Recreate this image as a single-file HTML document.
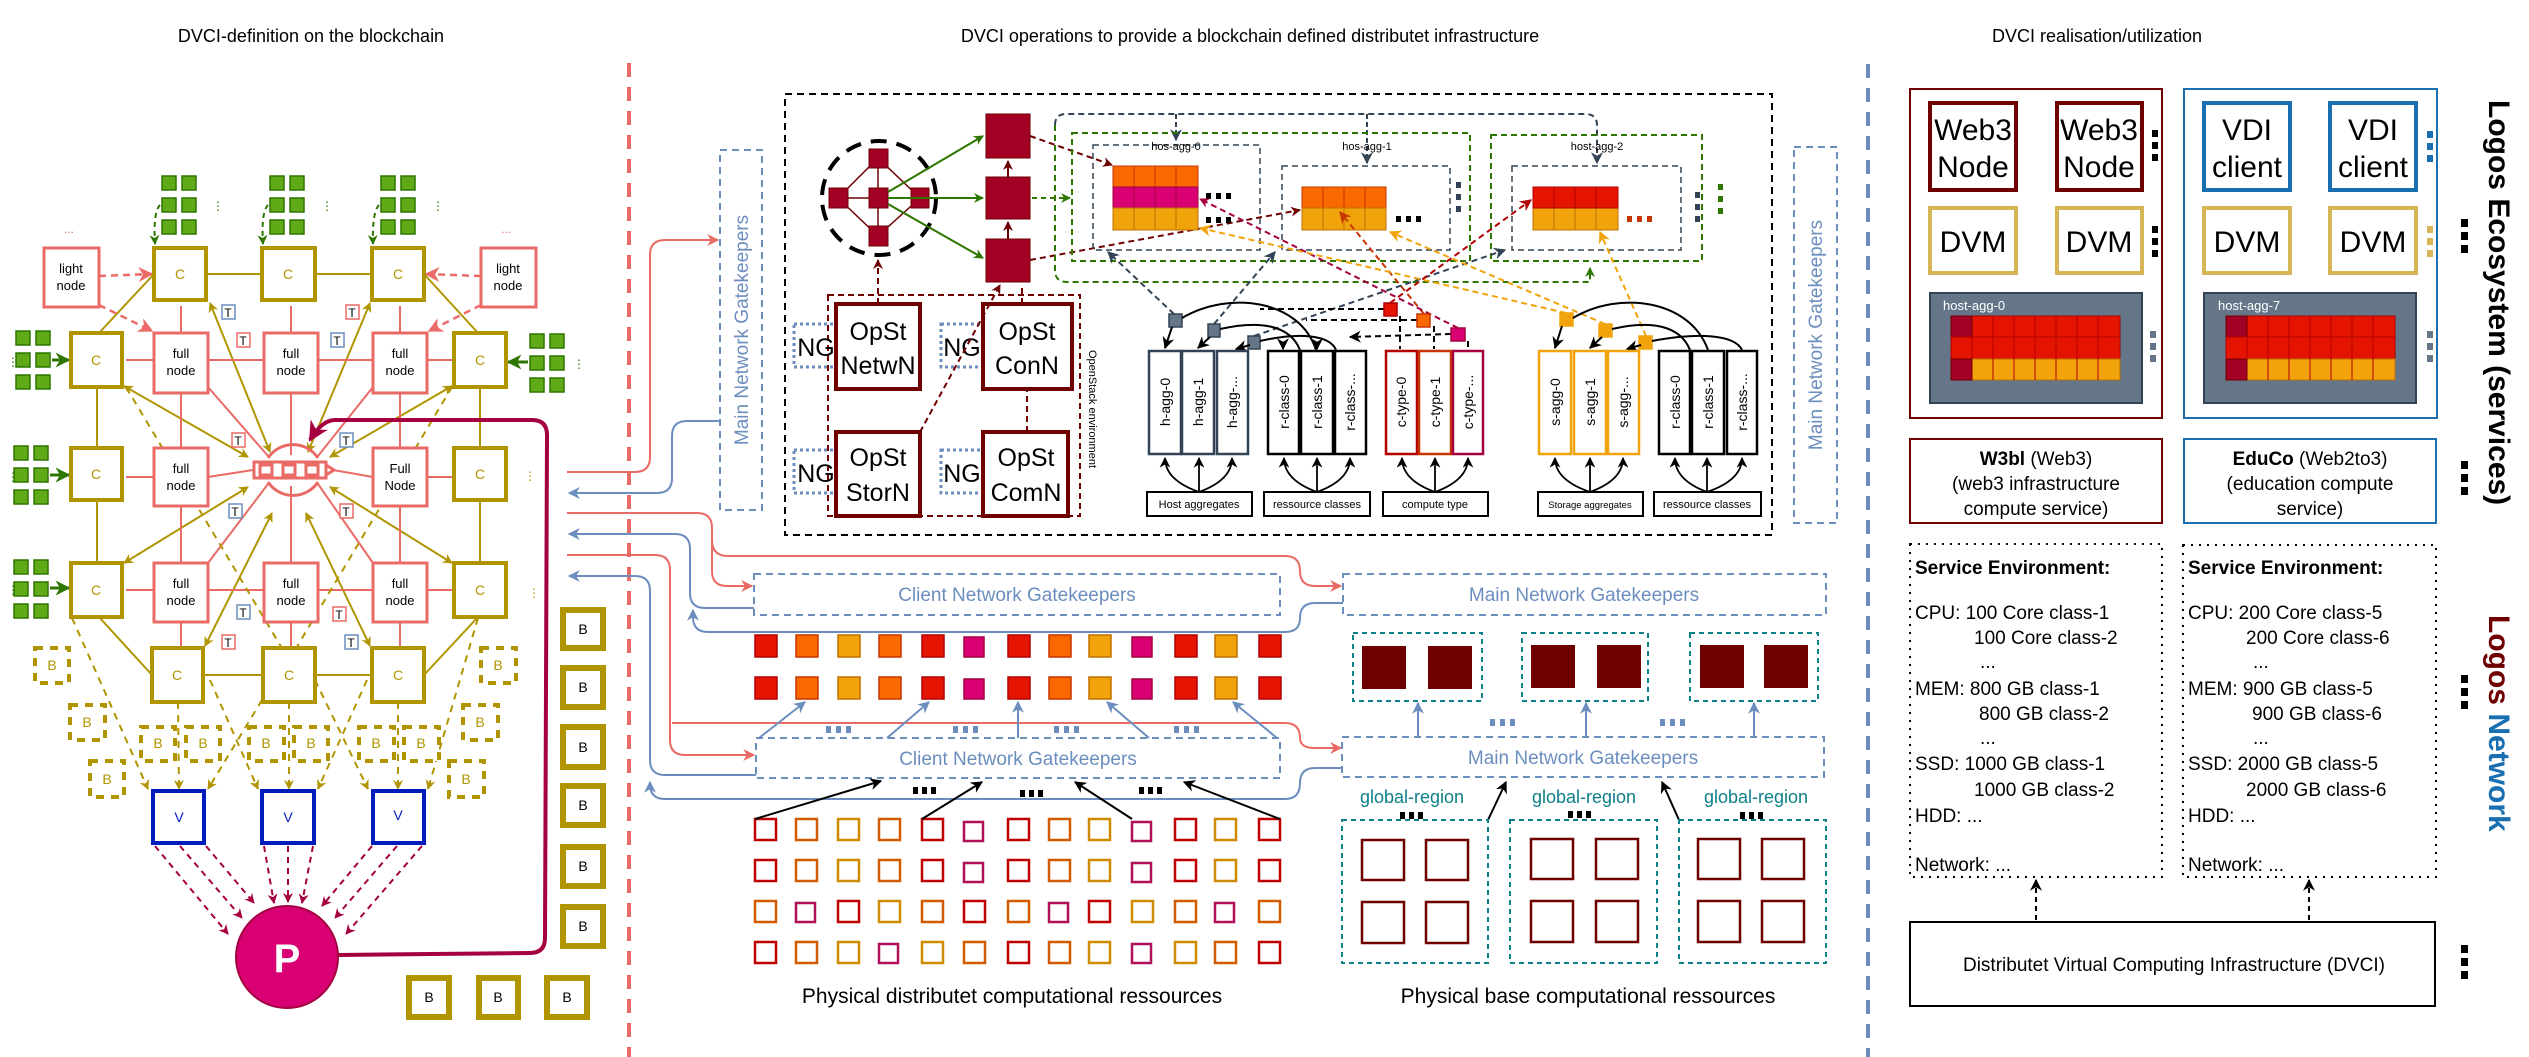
<!DOCTYPE html>
<html><head><meta charset="utf-8"><style>
html,body{margin:0;padding:0;background:#fff}
svg{display:block;font-family:"Liberation Sans",sans-serif}
</style></head><body>
<svg width="2529" height="1057" viewBox="0 0 2529 1057" xmlns="http://www.w3.org/2000/svg">
<defs>
<marker id="mG" viewBox="0 0 10 10" refX="9" refY="5" markerWidth="5" markerHeight="5" orient="auto-start-reverse"><path d="M0,0L10,5L0,10L3,5z" fill="#B09500"/></marker>
<marker id="mR" viewBox="0 0 10 10" refX="9" refY="5" markerWidth="6" markerHeight="6" orient="auto"><path d="M0,0L10,5L0,10L3,5z" fill="#EA6B66"/></marker>
<marker id="mB" viewBox="0 0 10 10" refX="9" refY="5" markerWidth="6" markerHeight="6" orient="auto"><path d="M0,0L10,5L0,10L3,5z" fill="#6C8EBF"/></marker>
<marker id="mGr" viewBox="0 0 10 10" refX="9" refY="5" markerWidth="5" markerHeight="5" orient="auto"><path d="M0,0L10,5L0,10L3,5z" fill="#2D7600"/></marker>
<marker id="mC" viewBox="0 0 10 10" refX="9" refY="5" markerWidth="5" markerHeight="5" orient="auto"><path d="M0,0L10,5L0,10L3,5z" fill="#A50040"/></marker>
<marker id="mD" viewBox="0 0 10 10" refX="9" refY="5" markerWidth="5" markerHeight="5" orient="auto"><path d="M0,0L10,5L0,10L3,5z" fill="#6F0000"/></marker>
<marker id="mK" viewBox="0 0 10 10" refX="9" refY="5" markerWidth="6" markerHeight="6" orient="auto"><path d="M0,0L10,5L0,10L3,5z" fill="#000"/></marker>
<marker id="mS" viewBox="0 0 10 10" refX="9" refY="5" markerWidth="6" markerHeight="6" orient="auto"><path d="M0,0L10,5L0,10L3,5z" fill="#314354"/></marker>
<marker id="mA" viewBox="0 0 10 10" refX="9" refY="5" markerWidth="6" markerHeight="6" orient="auto"><path d="M0,0L10,5L0,10L3,5z" fill="#F0A30A"/></marker>
<marker id="mO" viewBox="0 0 10 10" refX="9" refY="5" markerWidth="6" markerHeight="6" orient="auto"><path d="M0,0L10,5L0,10L3,5z" fill="#C73500"/></marker>
<marker id="mRd" viewBox="0 0 10 10" refX="9" refY="5" markerWidth="6" markerHeight="6" orient="auto"><path d="M0,0L10,5L0,10L3,5z" fill="#B20000"/></marker>
</defs>

<!-- titles -->
<g font-size="18" fill="#000" text-anchor="middle">
<text x="311" y="42">DVCI-definition on the blockchain</text>
<text x="1250" y="42">DVCI operations to provide a blockchain defined distributet infrastructure</text>
<text x="2097" y="42">DVCI realisation/utilization</text>
</g>

<!-- dividers -->
<line x1="629" y1="63" x2="629" y2="1057" stroke="#EA6B66" stroke-width="4" stroke-dasharray="14,10"/>
<line x1="1868" y1="64" x2="1868" y2="1057" stroke="#6C8EBF" stroke-width="4" stroke-dasharray="14,10"/>

<!-- ============ LEFT SECTION ============ -->
<!-- connections -->
<g fill="none">
<!-- gold solid -->
<g stroke="#B09500" stroke-width="2">
<line x1="206" y1="274" x2="262" y2="274"/><line x1="315" y1="274" x2="372" y2="274"/>
<line x1="99" y1="333" x2="154" y2="274"/><line x1="478" y1="333" x2="424" y2="274"/>
<line x1="97" y1="387" x2="97" y2="448"/><line x1="97" y1="500" x2="97" y2="563"/>
<line x1="480" y1="387" x2="480" y2="448"/><line x1="480" y1="500" x2="480" y2="563"/>
<line x1="99" y1="617" x2="152" y2="675"/><line x1="478" y1="617" x2="424" y2="675"/>
<line x1="203" y1="675" x2="263" y2="675"/><line x1="315" y1="675" x2="372" y2="675"/>
<line x1="210" y1="303" x2="270" y2="452" marker-start="url(#mG)" marker-end="url(#mG)"/>
<line x1="370" y1="303" x2="308" y2="452" marker-start="url(#mG)" marker-end="url(#mG)"/>
<line x1="124" y1="386" x2="248" y2="457" marker-start="url(#mG)" marker-end="url(#mG)"/>
<line x1="452" y1="386" x2="330" y2="457" marker-start="url(#mG)" marker-end="url(#mG)"/>
<line x1="124" y1="563" x2="248" y2="487" marker-start="url(#mG)" marker-end="url(#mG)"/>
<line x1="452" y1="563" x2="330" y2="487" marker-start="url(#mG)" marker-end="url(#mG)"/>
<line x1="205" y1="646" x2="272" y2="513" marker-start="url(#mG)" marker-end="url(#mG)"/>
<line x1="370" y1="646" x2="306" y2="513" marker-start="url(#mG)" marker-end="url(#mG)"/>
</g>
<!-- red solid grid -->
<g stroke="#EA6B66" stroke-width="2">
<line x1="181" y1="306" x2="181" y2="333"/><line x1="291" y1="306" x2="291" y2="333"/><line x1="400" y1="306" x2="400" y2="333"/>
<line x1="126" y1="360" x2="154" y2="360"/><line x1="208" y1="360" x2="264" y2="360"/><line x1="318" y1="360" x2="373" y2="360"/><line x1="427" y1="360" x2="454" y2="360"/>
<line x1="126" y1="477" x2="154" y2="477"/><line x1="208" y1="477" x2="253" y2="470"/><line x1="333" y1="470" x2="373" y2="477"/><line x1="427" y1="477" x2="454" y2="477"/>
<line x1="126" y1="590" x2="154" y2="590"/><line x1="208" y1="590" x2="264" y2="590"/><line x1="318" y1="590" x2="373" y2="590"/><line x1="427" y1="590" x2="454" y2="590"/>
<line x1="181" y1="393" x2="181" y2="448"/><line x1="181" y1="506" x2="181" y2="563"/>
<line x1="400" y1="393" x2="400" y2="448"/><line x1="400" y1="506" x2="400" y2="563"/>
<line x1="181" y1="622" x2="181" y2="648"/><line x1="291" y1="622" x2="291" y2="648"/><line x1="400" y1="622" x2="400" y2="648"/>
<line x1="208" y1="387" x2="268" y2="456"/><line x1="291" y1="393" x2="291" y2="455"/><line x1="373" y1="387" x2="318" y2="456"/>
<line x1="208" y1="563" x2="268" y2="484"/><line x1="291" y1="563" x2="291" y2="486"/><line x1="373" y1="563" x2="318" y2="484"/>
</g>
<!-- light node dashed red -->
<g stroke="#EA6B66" stroke-width="2.5" stroke-dasharray="7,5">
<line x1="99" y1="276" x2="152" y2="274" marker-end="url(#mR)"/>
<line x1="99" y1="305" x2="152" y2="331" marker-end="url(#mR)"/>
<line x1="481" y1="276" x2="426" y2="274" marker-end="url(#mR)"/>
<line x1="481" y1="305" x2="429" y2="331" marker-end="url(#mR)"/>
</g>
<!-- gold dashed -->
<g stroke="#B09500" stroke-width="2" stroke-dasharray="7,6">
<line x1="126" y1="387" x2="289" y2="660"/><line x1="452" y1="387" x2="289" y2="660"/>
<line x1="72" y1="618" x2="148" y2="789" marker-end="url(#mG)"/>
<line x1="178" y1="702" x2="179" y2="789" marker-end="url(#mG)"/>
<line x1="262" y1="700" x2="208" y2="789" marker-end="url(#mG)"/>
<line x1="210" y1="680" x2="258" y2="789" marker-end="url(#mG)"/>
<line x1="289" y1="702" x2="289" y2="789" marker-end="url(#mG)"/>
<line x1="367" y1="680" x2="318" y2="789" marker-end="url(#mG)"/>
<line x1="315" y1="680" x2="368" y2="789" marker-end="url(#mG)"/>
<line x1="398" y1="702" x2="398" y2="789" marker-end="url(#mG)"/>
<line x1="478" y1="618" x2="428" y2="789" marker-end="url(#mG)"/>
</g>
<!-- V to P -->
<g stroke="#A50040" stroke-width="2" stroke-dasharray="6,5">
<line x1="155" y1="846" x2="228" y2="934" marker-end="url(#mC)"/>
<line x1="180" y1="846" x2="242" y2="918" marker-end="url(#mC)"/>
<line x1="206" y1="846" x2="254" y2="903" marker-end="url(#mC)"/>
<line x1="264" y1="846" x2="274" y2="903" marker-end="url(#mC)"/>
<line x1="288" y1="846" x2="288" y2="902" marker-end="url(#mC)"/>
<line x1="313" y1="846" x2="302" y2="903" marker-end="url(#mC)"/>
<line x1="372" y1="846" x2="322" y2="906" marker-end="url(#mC)"/>
<line x1="397" y1="846" x2="335" y2="918" marker-end="url(#mC)"/>
<line x1="422" y1="846" x2="346" y2="934" marker-end="url(#mC)"/>
</g>
<!-- P loop -->
<path d="M338,955 L530,953 Q545,953 545,938 L547,435 Q547,420 532,420 L335,420 Q322,420 310,440" stroke="#A50040" stroke-width="4" marker-end="url(#mC)"/>
<!-- green arrows -->
<g stroke="#2D7600" stroke-width="2">
<path d="M160,205 Q153,212 155,244" stroke-dasharray="5,4" marker-end="url(#mGr)"/>
<path d="M268,205 Q261,212 263,244" stroke-dasharray="5,4" marker-end="url(#mGr)"/>
<path d="M379,205 Q372,212 373,244" stroke-dasharray="5,4" marker-end="url(#mGr)"/>
<line x1="52" y1="360" x2="69" y2="360" stroke-width="3" marker-end="url(#mGr)"/>
<line x1="50" y1="475" x2="69" y2="475" stroke-width="3" marker-end="url(#mGr)"/>
<line x1="50" y1="588" x2="69" y2="588" stroke-width="3" marker-end="url(#mGr)"/>
<line x1="528" y1="362" x2="508" y2="362" stroke-width="3" marker-end="url(#mGr)"/>
</g>
</g>

<!-- green square groups -->
<g fill="#60A917" stroke="#2D7600" stroke-width="1.5">
<rect x="162" y="176" width="14" height="14"/><rect x="182" y="176" width="14" height="14"/><rect x="162" y="198" width="14" height="14"/><rect x="182" y="198" width="14" height="14"/><rect x="162" y="220" width="14" height="14"/><rect x="182" y="220" width="14" height="14"/>
<rect x="270" y="176" width="14" height="14"/><rect x="290" y="176" width="14" height="14"/><rect x="270" y="198" width="14" height="14"/><rect x="290" y="198" width="14" height="14"/><rect x="270" y="220" width="14" height="14"/><rect x="290" y="220" width="14" height="14"/>
<rect x="381" y="176" width="14" height="14"/><rect x="401" y="176" width="14" height="14"/><rect x="381" y="198" width="14" height="14"/><rect x="401" y="198" width="14" height="14"/><rect x="381" y="220" width="14" height="14"/><rect x="401" y="220" width="14" height="14"/>
<rect x="16" y="331" width="14" height="14"/><rect x="36" y="331" width="14" height="14"/><rect x="16" y="353" width="14" height="14"/><rect x="36" y="353" width="14" height="14"/><rect x="16" y="375" width="14" height="14"/><rect x="36" y="375" width="14" height="14"/>
<rect x="14" y="446" width="14" height="14"/><rect x="34" y="446" width="14" height="14"/><rect x="14" y="468" width="14" height="14"/><rect x="34" y="468" width="14" height="14"/><rect x="14" y="490" width="14" height="14"/><rect x="34" y="490" width="14" height="14"/>
<rect x="14" y="560" width="14" height="14"/><rect x="34" y="560" width="14" height="14"/><rect x="14" y="582" width="14" height="14"/><rect x="34" y="582" width="14" height="14"/><rect x="14" y="604" width="14" height="14"/><rect x="34" y="604" width="14" height="14"/>
<rect x="530" y="334" width="14" height="14"/><rect x="550" y="334" width="14" height="14"/><rect x="530" y="356" width="14" height="14"/><rect x="550" y="356" width="14" height="14"/><rect x="530" y="378" width="14" height="14"/><rect x="550" y="378" width="14" height="14"/>
</g>
<g fill="#2D7600" font-size="12">
<text x="212" y="210">⋮</text><text x="321" y="210">⋮</text><text x="432" y="210">⋮</text><text x="573" y="368">⋮</text>
<text x="7" y="366">⋮</text><text x="7" y="481">⋮</text><text x="7" y="594">⋮</text>
</g>
<g fill="#EA6B66" font-size="12"><text x="64" y="233">...</text><text x="501" y="233">...</text></g>
<g fill="#B09500" font-size="12"><text x="524" y="480">⋮</text><text x="528" y="597">⋮</text></g>

<!-- boxes left -->
<g fill="#fff">
<g stroke="#EA6B66" stroke-width="3">
<rect x="44" y="248" width="55" height="59"/><rect x="481" y="248" width="55" height="59"/>
<rect x="154" y="333" width="54" height="60"/><rect x="264" y="333" width="54" height="60"/><rect x="373" y="333" width="54" height="60"/>
<rect x="154" y="448" width="54" height="58"/><rect x="373" y="448" width="54" height="58"/>
<rect x="154" y="563" width="54" height="59"/><rect x="264" y="563" width="54" height="59"/><rect x="373" y="563" width="54" height="59"/>
</g>
<g stroke="#B09500" stroke-width="4">
<rect x="154" y="248" width="52" height="52"/><rect x="262" y="248" width="53" height="52"/><rect x="372" y="248" width="52" height="52"/>
<rect x="71" y="333" width="51" height="54"/><rect x="454" y="333" width="52" height="54"/>
<rect x="71" y="448" width="51" height="52"/><rect x="454" y="448" width="52" height="52"/>
<rect x="71" y="563" width="51" height="54"/><rect x="454" y="563" width="52" height="54"/>
<rect x="152" y="648" width="51" height="54"/><rect x="263" y="648" width="52" height="54"/><rect x="372" y="648" width="52" height="54"/>
</g>
<g stroke="#B09500" stroke-width="4" stroke-dasharray="8,7">
<rect x="35" y="648" width="34" height="35"/><rect x="70" y="705" width="35" height="35"/><rect x="141" y="727" width="34" height="34"/><rect x="186" y="727" width="34" height="34"/><rect x="249" y="727" width="35" height="34"/><rect x="294" y="727" width="34" height="34"/><rect x="359" y="727" width="35" height="34"/><rect x="404" y="727" width="35" height="34"/><rect x="90" y="761" width="34" height="36"/>
<rect x="481" y="648" width="35" height="35"/><rect x="463" y="705" width="35" height="35"/><rect x="449" y="761" width="35" height="36"/>
</g>
<g stroke="#B09500" stroke-width="6">
<rect x="563" y="610" width="40" height="38"/><rect x="563" y="668" width="40" height="39"/><rect x="563" y="727" width="40" height="40"/><rect x="563" y="786" width="40" height="39"/><rect x="563" y="847" width="40" height="39"/><rect x="563" y="907" width="40" height="39"/>
<rect x="409" y="978" width="40" height="39"/><rect x="479" y="978" width="39" height="39"/><rect x="547" y="978" width="40" height="39"/>
</g>
<g stroke="#001DBC" stroke-width="4">
<rect x="153" y="791" width="51" height="52"/><rect x="262" y="791" width="52" height="52"/><rect x="373" y="791" width="51" height="52"/>
</g>
</g>
<!-- chain icon -->
<g fill="none" stroke="#EA6B66" stroke-width="3">
<path d="M268,458 A30,30 0 0 1 318,458"/><path d="M268,482 A30,30 0 0 0 318,482"/>
<rect x="254" y="462" width="72" height="16" fill="#fff"/>
<rect x="260" y="465" width="12" height="10"/><rect x="283" y="465" width="12" height="10"/><rect x="306" y="465" width="12" height="10"/>
<path d="M326,465 L334,470 L326,475"/>
</g>
<!-- P -->
<ellipse cx="287" cy="957" rx="51" ry="51" fill="#D80073" stroke="#A50040" stroke-width="2"/>
<text x="287" y="972" font-size="40" font-weight="bold" fill="#fff" text-anchor="middle">P</text>

<g font-size="14" text-anchor="middle">
<g fill="#B09500">
<text x="180" y="279">C</text><text x="288" y="279">C</text><text x="398" y="279">C</text>
<text x="96" y="365">C</text><text x="480" y="365">C</text>
<text x="96" y="479">C</text><text x="480" y="479">C</text>
<text x="96" y="595">C</text><text x="480" y="595">C</text>
<text x="177" y="680">C</text><text x="289" y="680">C</text><text x="398" y="680">C</text>
<text x="52" y="670">B</text><text x="87" y="727">B</text><text x="158" y="748">B</text><text x="203" y="748">B</text><text x="266" y="748">B</text><text x="311" y="748">B</text><text x="376" y="748">B</text><text x="421" y="748">B</text><text x="107" y="784">B</text>
<text x="498" y="670">B</text><text x="480" y="727">B</text><text x="466" y="784">B</text>
</g>
<g fill="#000" font-size="13">
<text x="71" y="273">light</text><text x="71" y="290">node</text>
<text x="508" y="273">light</text><text x="508" y="290">node</text>
<text x="181" y="358">full</text><text x="181" y="375">node</text>
<text x="291" y="358">full</text><text x="291" y="375">node</text>
<text x="400" y="358">full</text><text x="400" y="375">node</text>
<text x="181" y="473">full</text><text x="181" y="490">node</text>
<text x="400" y="473">Full</text><text x="400" y="490">Node</text>
<text x="181" y="588">full</text><text x="181" y="605">node</text>
<text x="291" y="588">full</text><text x="291" y="605">node</text>
<text x="400" y="588">full</text><text x="400" y="605">node</text>
</g>
<g fill="#001DBC"><text x="179" y="822">V</text><text x="288" y="822">V</text><text x="398" y="820">V</text></g>
<g fill="#000">
<text x="583" y="634">B</text><text x="583" y="692">B</text><text x="583" y="752">B</text><text x="583" y="810">B</text><text x="583" y="871">B</text><text x="583" y="931">B</text>
<text x="429" y="1002">B</text><text x="498" y="1002">B</text><text x="567" y="1002">B</text>
</g>
</g>
<!-- T badges -->
<g font-size="12" text-anchor="middle">
<g fill="#fff" stroke-width="1.5">
<rect x="222" y="305" width="13" height="14" stroke="#6C8EBF"/><rect x="346" y="305" width="13" height="14" stroke="#EA6B66"/>
<rect x="237" y="333" width="13" height="14" stroke="#EA6B66"/><rect x="331" y="333" width="13" height="14" stroke="#6C8EBF"/>
<rect x="232" y="433" width="13" height="14" stroke="#EA6B66"/><rect x="340" y="433" width="13" height="14" stroke="#6C8EBF"/>
<rect x="229" y="504" width="13" height="14" stroke="#6C8EBF"/><rect x="340" y="504" width="13" height="14" stroke="#EA6B66"/>
<rect x="237" y="605" width="13" height="14" stroke="#6C8EBF"/><rect x="333" y="607" width="13" height="14" stroke="#EA6B66"/>
<rect x="222" y="635" width="13" height="14" stroke="#EA6B66"/><rect x="345" y="635" width="13" height="14" stroke="#6C8EBF"/>
</g>
<g fill="#000">
<text x="228" y="317">T</text><text x="352" y="317">T</text><text x="243" y="345">T</text><text x="337" y="345">T</text>
<text x="238" y="445">T</text><text x="346" y="445">T</text><text x="235" y="516">T</text><text x="346" y="516">T</text>
<text x="243" y="617">T</text><text x="339" y="619">T</text><text x="228" y="647">T</text><text x="351" y="647">T</text>
</g>
</g>

<!-- ============ NETWORK LINES ============ -->
<g fill="none" stroke-width="2">
<path d="M567,472 L635,472 Q650,472 650,457 L650,255 Q650,240 665,240 L718,240" stroke="#EA6B66" marker-end="url(#mR)"/>
<path d="M720,421 L687,421 Q672,421 672,436 L672,478 Q672,493 657,493 L569,493" stroke="#6C8EBF" marker-end="url(#mB)"/>
<path d="M567,513 L697,513 Q712,513 712,528 L712,571 Q712,586 727,586 L752,586" stroke="#EA6B66" marker-end="url(#mR)"/>
<path d="M712,540 Q712,556 728,556 L1285,556 Q1300,556 1300,571 L1300,571 Q1300,586 1315,586 L1341,586" stroke="#EA6B66" marker-end="url(#mR)"/>
<path d="M754,608 L705,608 Q690,608 690,593 L690,549 Q690,534 675,534 L569,534" stroke="#6C8EBF" marker-end="url(#mB)"/>
<path d="M1343,603 L1315,603 Q1300,603 1300,618 Q1300,632 1285,632 L708,632 Q693,632 693,617 L693,610" stroke="#6C8EBF" marker-end="url(#mB)"/>
<path d="M567,555 L655,555 Q670,555 670,570 L670,740 Q670,755 685,755 L754,755" stroke="#EA6B66" marker-end="url(#mR)"/>
<path d="M672,723 L1285,723 Q1300,723 1300,738 Q1300,748 1315,748 L1341,748" stroke="#EA6B66" marker-end="url(#mR)"/>
<path d="M756,775 L665,775 Q650,775 650,760 L650,591 Q650,576 635,576 L569,576" stroke="#6C8EBF" marker-end="url(#mB)"/>
<path d="M1343,768 L1315,768 Q1300,768 1300,783 Q1300,799 1285,799 L665,799 Q650,799 650,784 L650,782" stroke="#6C8EBF" marker-end="url(#mB)"/>
</g>

<!-- ============ MIDDLE ============ -->
<!-- vertical Main NG boxes -->
<g fill="none" stroke="#6C8EBF" stroke-width="2" stroke-dasharray="7,5">
<rect x="720" y="150" width="42" height="360"/>
<rect x="1794" y="147" width="43" height="376"/>
<rect x="754" y="574" width="526" height="41"/>
<rect x="1343" y="574" width="483" height="41"/>
<rect x="756" y="738" width="524" height="40"/>
<rect x="1342" y="737" width="482" height="40"/>
</g>
<g fill="#6C8EBF" font-size="19" text-anchor="middle">
<text transform="translate(748,330) rotate(-90)">Main Network Gatekeepers</text>
<text transform="translate(1822,335) rotate(-90)">Main Network Gatekeepers</text>
<text x="1017" y="601">Client Network Gatekeepers</text>
<text x="1584" y="601">Main Network Gatekeepers</text>
<text x="1018" y="765">Client Network Gatekeepers</text>
<text x="1583" y="764">Main Network Gatekeepers</text>
</g>

<!-- black dashed big box -->
<rect x="785" y="94" width="987" height="441" fill="none" stroke="#000" stroke-width="2" stroke-dasharray="7,5"/>

<!-- openstack area -->
<rect x="828" y="295" width="252" height="221" fill="none" stroke="#6F0000" stroke-width="2" stroke-dasharray="6,4"/>
<text transform="translate(1089,350) rotate(90)" font-size="11" fill="#000">OpenStack environment</text>
<g fill="none" stroke="#6C8EBF" stroke-width="3" stroke-dasharray="3,3">
<rect x="794" y="324" width="43" height="43"/><rect x="941" y="324" width="42" height="43"/>
<rect x="794" y="450" width="43" height="43"/><rect x="941" y="450" width="42" height="43"/>
</g>
<g fill="#fff" stroke="#6F0000" stroke-width="4">
<rect x="836" y="304" width="84" height="85"/><rect x="983" y="304" width="89" height="85"/>
<rect x="836" y="432" width="84" height="84"/><rect x="983" y="432" width="85" height="84"/>
</g>
<g font-size="25" fill="#000" text-anchor="middle">
<text x="878" y="340">OpSt</text><text x="878" y="374">NetwN</text>
<text x="1027" y="340">OpSt</text><text x="1027" y="374">ConN</text>
<text x="878" y="466">OpSt</text><text x="878" y="501">StorN</text>
<text x="1026" y="466">OpSt</text><text x="1026" y="501">ComN</text>
<text x="816" y="356">NG</text><text x="962" y="356">NG</text>
<text x="816" y="482">NG</text><text x="962" y="482">NG</text>
</g>

<!-- network circle -->
<circle cx="879" cy="198" r="57" fill="none" stroke="#000" stroke-width="4" stroke-dasharray="16,10"/>
<g stroke="#6F0000" stroke-width="1.5" fill="none">
<path d="M878,158 L838,198 L878,236 L920,198 Z"/><line x1="838" y1="198" x2="920" y2="198"/><line x1="878" y1="158" x2="878" y2="236"/>
</g>
<g fill="#A20025" stroke="#6F0000" stroke-width="1">
<rect x="869" y="149" width="19" height="19"/><rect x="829" y="188" width="19" height="20"/><rect x="869" y="188" width="19" height="20"/><rect x="911" y="188" width="18" height="20"/><rect x="869" y="226" width="19" height="20"/>
<rect x="986" y="114" width="44" height="44"/><rect x="986" y="177" width="44" height="42"/><rect x="986" y="239" width="44" height="43"/>
</g>
<g stroke="#2D7600" stroke-width="2" fill="none">
<line x1="888" y1="192" x2="983" y2="136" marker-end="url(#mGr)"/>
<line x1="888" y1="198" x2="983" y2="198" marker-end="url(#mGr)"/>
<line x1="888" y1="204" x2="983" y2="258" marker-end="url(#mGr)"/>
<line x1="1032" y1="198" x2="1070" y2="198" stroke-dasharray="5,4" marker-end="url(#mGr)"/>
</g>
<g stroke="#6F0000" stroke-width="2" fill="none" stroke-dasharray="6,4">
<line x1="1008" y1="239" x2="1008" y2="222" stroke-dasharray="none" marker-end="url(#mD)"/>
<line x1="1008" y1="177" x2="1008" y2="161" stroke-dasharray="none" marker-end="url(#mD)"/>
<line x1="878" y1="304" x2="878" y2="260" marker-end="url(#mD)"/>
<line x1="1022" y1="304" x2="1022" y2="285"/>
<line x1="920" y1="432" x2="1000" y2="285" marker-end="url(#mD)"/>
<line x1="1027" y1="432" x2="1027" y2="389"/>
<line x1="1030" y1="136" x2="1112" y2="165" marker-end="url(#mD)"/>
<line x1="1030" y1="260" x2="1300" y2="210" marker-end="url(#mD)"/>
</g>

<!-- green / gray dashed aggregate boxes -->
<path d="M1055,125 Q1055,114 1066,114 L1585,114 Q1597,114 1597,125 L1597,140" fill="none" stroke="#314354" stroke-width="2" stroke-dasharray="6,4"/>
<path d="M1055,125 L1055,270 Q1055,282 1067,282 L1590,282 L1590,268" fill="none" stroke="#2D7600" stroke-width="2" stroke-dasharray="6,4" marker-end="url(#mGr)"/>
<line x1="1176" y1="114" x2="1176" y2="140" stroke="#314354" stroke-width="2" stroke-dasharray="5,3" marker-end="url(#mS)"/>
<line x1="1367" y1="114" x2="1367" y2="163" stroke="#314354" stroke-width="2" stroke-dasharray="5,3" marker-end="url(#mS)"/>
<line x1="1597" y1="140" x2="1597" y2="163" stroke="#314354" stroke-width="2" stroke-dasharray="5,3" marker-end="url(#mS)"/>
<g fill="none" stroke="#2D7600" stroke-width="2" stroke-dasharray="6,4">
<rect x="1072" y="133" width="398" height="128"/><rect x="1491" y="135" width="211" height="126"/>
</g>
<g fill="none" stroke="#314354" stroke-width="1.5" stroke-dasharray="6,4">
<rect x="1093" y="145" width="167" height="105"/><rect x="1282" y="166" width="168" height="84"/><rect x="1512" y="166" width="169" height="84"/>
</g>
<g font-size="11" fill="#000" text-anchor="middle"><text x="1176" y="150">hos-agg-0</text><text x="1367" y="150">hos-agg-1</text><text x="1597" y="150">host-agg-2</text></g>
<!-- grids -->
<g stroke-width="1">
<g fill="#FA6800" stroke="#C73500"><rect x="1113" y="166" width="21" height="21"/><rect x="1134" y="166" width="21" height="21"/><rect x="1155" y="166" width="21" height="21"/><rect x="1176" y="166" width="22" height="21"/>
<rect x="1302" y="187" width="21" height="21"/><rect x="1323" y="187" width="21" height="21"/><rect x="1344" y="187" width="21" height="21"/><rect x="1365" y="187" width="21" height="21"/></g>
<g fill="#D80073" stroke="#A50040"><rect x="1113" y="187" width="21" height="21"/><rect x="1134" y="187" width="21" height="21"/><rect x="1155" y="187" width="21" height="21"/><rect x="1176" y="187" width="22" height="21"/></g>
<g fill="#F0A30A" stroke="#BD7000"><rect x="1113" y="208" width="21" height="22"/><rect x="1134" y="208" width="21" height="22"/><rect x="1155" y="208" width="21" height="22"/><rect x="1176" y="208" width="22" height="22"/>
<rect x="1302" y="208" width="21" height="22"/><rect x="1323" y="208" width="21" height="22"/><rect x="1344" y="208" width="21" height="22"/><rect x="1365" y="208" width="21" height="22"/>
<rect x="1533" y="208" width="21" height="22"/><rect x="1554" y="208" width="21" height="22"/><rect x="1575" y="208" width="21" height="22"/><rect x="1596" y="208" width="22" height="22"/></g>
<g fill="#E51400" stroke="#B20000"><rect x="1533" y="187" width="21" height="21"/><rect x="1554" y="187" width="21" height="21"/><rect x="1575" y="187" width="21" height="21"/><rect x="1596" y="187" width="22" height="21"/></g>
</g>
<g>
<rect x="1206" y="193" width="5" height="6"/><rect x="1216" y="193" width="5" height="6"/><rect x="1226" y="193" width="5" height="6"/>
<rect x="1206" y="217" width="5" height="6"/><rect x="1216" y="217" width="5" height="6"/><rect x="1226" y="217" width="5" height="6"/>
<rect x="1396" y="216" width="5" height="6"/><rect x="1406" y="216" width="5" height="6"/><rect x="1416" y="216" width="5" height="6"/>
<g fill="#C73500"><rect x="1627" y="216" width="5" height="6"/><rect x="1637" y="216" width="5" height="6"/><rect x="1647" y="216" width="5" height="6"/></g>
<g fill="#314354"><rect x="1456" y="182" width="5" height="6"/><rect x="1456" y="194" width="5" height="6"/><rect x="1456" y="206" width="5" height="6"/>
<rect x="1695" y="192" width="5" height="6"/><rect x="1695" y="204" width="5" height="6"/><rect x="1695" y="216" width="5" height="6"/></g>
<g fill="#2D7600"><rect x="1718" y="184" width="5" height="6"/><rect x="1718" y="196" width="5" height="6"/><rect x="1718" y="208" width="5" height="6"/></g>
</g>

<!-- colored dashed links from small squares -->
<g fill="none" stroke-width="2" stroke-dasharray="6,4">
<line x1="1174" y1="314" x2="1108" y2="252" stroke="#314354" marker-end="url(#mS)"/>
<line x1="1214" y1="324" x2="1275" y2="252" stroke="#314354" marker-end="url(#mS)"/>
<line x1="1254" y1="336" x2="1505" y2="250" stroke="#314354" marker-end="url(#mS)"/>
<line x1="1390" y1="303" x2="1531" y2="200" stroke="#B20000" marker-end="url(#mRd)"/>
<line x1="1424" y1="314" x2="1340" y2="212" stroke="#C73500" marker-end="url(#mO)"/>
<line x1="1458" y1="328" x2="1200" y2="199" stroke="#A50040" marker-end="url(#mC)"/>
<line x1="1566" y1="313" x2="1200" y2="228" stroke="#F0A30A" marker-end="url(#mA)"/>
<line x1="1605" y1="324" x2="1390" y2="232" stroke="#F0A30A" marker-end="url(#mA)"/>
<line x1="1646" y1="336" x2="1600" y2="232" stroke="#F0A30A" marker-end="url(#mA)"/>
<line x1="1384" y1="309" x2="1260" y2="309" stroke="#000"/>
<line x1="1417" y1="320" x2="1306" y2="320" stroke="#000"/>
<line x1="1451" y1="334" x2="1350" y2="337" stroke="#000" marker-end="url(#mK)"/>
<line x1="1400" y1="316" x2="1400" y2="349" stroke="#000"/>
<line x1="1434" y1="326" x2="1434" y2="349" stroke="#000"/>
<line x1="1468" y1="341" x2="1468" y2="349" stroke="#000"/>
</g>
<!-- small squares -->
<g stroke-width="1.5">
<g fill="#647687" stroke="#314354"><rect x="1169" y="314" width="13" height="13"/><rect x="1208" y="324" width="12" height="13"/><rect x="1248" y="336" width="12" height="13"/></g>
<rect x="1384" y="303" width="13" height="13" fill="#E51400" stroke="#B20000"/>
<rect x="1417" y="314" width="13" height="13" fill="#FA6800" stroke="#C73500"/>
<rect x="1451" y="328" width="14" height="13" fill="#D80073" stroke="#A50040"/>
<g fill="#F0A30A" stroke="#F0A30A"><rect x="1560" y="313" width="13" height="13"/><rect x="1599" y="324" width="13" height="13"/><rect x="1639" y="336" width="13" height="13"/></g>
</g>
<!-- black curves -->
<g fill="none" stroke="#000" stroke-width="2">
<path d="M1182,318 C1230,290 1300,300 1316,350"/><path d="M1220,329 C1260,320 1290,325 1300,350"/><path d="M1260,341 C1300,332 1330,335 1336,350"/>
<path d="M1172,327 L1165,348" marker-end="url(#mK)"/><path d="M1210,337 L1198,348" marker-end="url(#mK)"/><path d="M1250,345 L1236,349" marker-end="url(#mK)"/>
<path d="M1573,318 C1620,290 1690,300 1708,350"/><path d="M1612,329 C1650,320 1680,325 1690,350"/><path d="M1652,341 C1700,332 1735,335 1742,350"/>
<path d="M1562,326 L1555,348" marker-end="url(#mK)"/><path d="M1602,337 L1590,348" marker-end="url(#mK)"/><path d="M1641,345 L1627,349" marker-end="url(#mK)"/>
<path d="M1283,345 L1283,349" marker-end="url(#mK)"/><path d="M1317,345 L1317,349" marker-end="url(#mK)"/>
</g>
<!-- vertical label boxes -->
<g fill="#fff" stroke-width="2.5">
<g stroke="#314354"><rect x="1149" y="351" width="32" height="103"/><rect x="1182" y="351" width="32" height="103"/><rect x="1217" y="351" width="31" height="103"/></g>
<g stroke="#000"><rect x="1268" y="351" width="31" height="103"/><rect x="1301" y="351" width="32" height="103"/><rect x="1335" y="351" width="31" height="103"/>
<rect x="1659" y="351" width="31" height="103"/><rect x="1692" y="351" width="32" height="103"/><rect x="1727" y="351" width="30" height="103"/></g>
<rect x="1386" y="351" width="31" height="103" stroke="#B20000"/><rect x="1419" y="351" width="32" height="103" stroke="#C73500"/><rect x="1453" y="351" width="30" height="103" stroke="#A50040"/>
<g stroke="#F0A30A"><rect x="1539" y="351" width="32" height="103"/><rect x="1574" y="351" width="32" height="103"/><rect x="1608" y="351" width="31" height="103"/></g>
<g stroke="#000" stroke-width="2"><rect x="1147" y="492" width="105" height="24"/><rect x="1264" y="492" width="106" height="24"/><rect x="1383" y="492" width="105" height="24"/><rect x="1538" y="492" width="105" height="24"/><rect x="1654" y="492" width="107" height="24"/></g>
</g>
<g font-size="14" fill="#000" text-anchor="middle">
<text transform="translate(1170,402) rotate(-90)">h-agg-0</text><text transform="translate(1203,402) rotate(-90)">h-agg-1</text><text transform="translate(1237,402) rotate(-90)">h-agg-...</text>
<text transform="translate(1289,402) rotate(-90)">r-class-0</text><text transform="translate(1322,402) rotate(-90)">r-class-1</text><text transform="translate(1355,402) rotate(-90)">r-class-...</text>
<text transform="translate(1406,402) rotate(-90)">c-type-0</text><text transform="translate(1440,402) rotate(-90)">c-type-1</text><text transform="translate(1473,402) rotate(-90)">c-type-...</text>
<text transform="translate(1560,402) rotate(-90)">s-agg-0</text><text transform="translate(1595,402) rotate(-90)">s-agg-1</text><text transform="translate(1628,402) rotate(-90)">s-agg-...</text>
<text transform="translate(1680,402) rotate(-90)">r-class-0</text><text transform="translate(1713,402) rotate(-90)">r-class-1</text><text transform="translate(1747,402) rotate(-90)">r-class-...</text>
</g>
<g font-size="11" fill="#000" text-anchor="middle">
<text x="1199" y="508">Host aggregates</text><text x="1317" y="508">ressource classes</text><text x="1435" y="508">compute type</text><text x="1590" y="508" font-size="9.5">Storage aggregates</text><text x="1707" y="508">ressource classes</text>
</g>
<!-- fan arrows -->
<g fill="none" stroke="#000" stroke-width="1.8">
<path d="M1199,492 Q1165,480 1165,458" marker-end="url(#mK)"/><path d="M1199,492 L1199,458" marker-end="url(#mK)"/><path d="M1199,492 Q1232,480 1232,458" marker-end="url(#mK)"/>
<path d="M1317,492 Q1284,480 1284,458" marker-end="url(#mK)"/><path d="M1317,492 L1317,458" marker-end="url(#mK)"/><path d="M1317,492 Q1350,480 1350,458" marker-end="url(#mK)"/>
<path d="M1435,492 Q1402,480 1402,458" marker-end="url(#mK)"/><path d="M1435,492 L1435,458" marker-end="url(#mK)"/><path d="M1435,492 Q1468,480 1468,458" marker-end="url(#mK)"/>
<path d="M1590,492 Q1555,480 1555,458" marker-end="url(#mK)"/><path d="M1590,492 L1590,458" marker-end="url(#mK)"/><path d="M1590,492 Q1623,480 1623,458" marker-end="url(#mK)"/>
<path d="M1707,492 Q1675,480 1675,458" marker-end="url(#mK)"/><path d="M1707,492 L1707,458" marker-end="url(#mK)"/><path d="M1707,492 Q1742,480 1742,458" marker-end="url(#mK)"/>
</g>

<!-- colored squares rows -->
<g stroke-width="1.5">
<g fill="#E51400" stroke="#B20000">
<rect x="755" y="635" width="22" height="22"/><rect x="922" y="635" width="22" height="22"/><rect x="1008" y="635" width="22" height="22"/><rect x="1175" y="635" width="22" height="22"/><rect x="1259" y="635" width="22" height="22"/>
<rect x="755" y="677" width="22" height="22"/><rect x="922" y="677" width="22" height="22"/><rect x="1008" y="677" width="22" height="22"/><rect x="1175" y="677" width="22" height="22"/><rect x="1259" y="677" width="22" height="22"/>
</g>
<g fill="#FA6800" stroke="#C73500">
<rect x="796" y="635" width="22" height="22"/><rect x="879" y="635" width="22" height="22"/><rect x="1049" y="635" width="22" height="22"/>
<rect x="796" y="677" width="22" height="22"/><rect x="879" y="677" width="22" height="22"/><rect x="1049" y="677" width="22" height="22"/>
</g>
<g fill="#F0A30A" stroke="#BD7000">
<rect x="838" y="635" width="22" height="22"/><rect x="1089" y="635" width="22" height="22"/><rect x="1215" y="635" width="22" height="22"/>
<rect x="838" y="677" width="22" height="22"/><rect x="1089" y="677" width="22" height="22"/><rect x="1215" y="677" width="22" height="22"/>
</g>
<g fill="#D80073" stroke="#A50040">
<rect x="964" y="637" width="20" height="20"/><rect x="1132" y="637" width="20" height="20"/>
<rect x="964" y="679" width="20" height="20"/><rect x="1132" y="679" width="20" height="20"/>
</g>
</g>
<g stroke="#6C8EBF" stroke-width="2" fill="none">
<line x1="759" y1="738" x2="805" y2="702" marker-end="url(#mB)"/><line x1="887" y1="738" x2="929" y2="702" marker-end="url(#mB)"/><line x1="1018" y1="738" x2="1018" y2="702" marker-end="url(#mB)"/><line x1="1149" y1="738" x2="1107" y2="702" marker-end="url(#mB)"/><line x1="1277" y1="738" x2="1233" y2="702" marker-end="url(#mB)"/>
<line x1="1418" y1="737" x2="1418" y2="703" marker-end="url(#mB)"/><line x1="1586" y1="737" x2="1586" y2="703" marker-end="url(#mB)"/><line x1="1754" y1="737" x2="1754" y2="703" marker-end="url(#mB)"/>
</g>
<g fill="#6C8EBF">
<rect x="826" y="726" width="5" height="7"/><rect x="836" y="726" width="5" height="7"/><rect x="846" y="726" width="5" height="7"/>
<rect x="953" y="726" width="5" height="7"/><rect x="963" y="726" width="5" height="7"/><rect x="973" y="726" width="5" height="7"/>
<rect x="1054" y="726" width="5" height="7"/><rect x="1064" y="726" width="5" height="7"/><rect x="1074" y="726" width="5" height="7"/>
<rect x="1174" y="726" width="5" height="7"/><rect x="1184" y="726" width="5" height="7"/><rect x="1194" y="726" width="5" height="7"/>
<rect x="1490" y="719" width="5" height="7"/><rect x="1500" y="719" width="5" height="7"/><rect x="1510" y="719" width="5" height="7"/>
<rect x="1660" y="719" width="5" height="7"/><rect x="1670" y="719" width="5" height="7"/><rect x="1680" y="719" width="5" height="7"/>
</g>
<!-- outline rows -->
<g fill="none" stroke-width="2.5">
<g stroke="#C00000">
<rect x="755" y="819" width="21" height="21"/><rect x="922" y="819" width="21" height="21"/><rect x="1008" y="819" width="21" height="21"/><rect x="1175" y="819" width="21" height="21"/><rect x="1259" y="819" width="21" height="21"/>
<rect x="755" y="860" width="21" height="21"/><rect x="922" y="860" width="21" height="21"/><rect x="1008" y="860" width="21" height="21"/><rect x="1175" y="860" width="21" height="21"/><rect x="1259" y="860" width="21" height="21"/>
<rect x="838" y="901" width="21" height="21"/><rect x="964" y="901" width="21" height="21"/><rect x="1089" y="901" width="21" height="21"/>
<rect x="755" y="942" width="21" height="21"/><rect x="1008" y="942" width="21" height="21"/><rect x="1259" y="942" width="21" height="21"/>
</g>
<g stroke="#D45A00">
<rect x="796" y="819" width="21" height="21"/><rect x="879" y="819" width="21" height="21"/><rect x="1049" y="819" width="21" height="21"/>
<rect x="796" y="860" width="21" height="21"/><rect x="879" y="860" width="21" height="21"/><rect x="1049" y="860" width="21" height="21"/>
<rect x="755" y="901" width="21" height="21"/><rect x="922" y="901" width="21" height="21"/><rect x="1008" y="901" width="21" height="21"/><rect x="1175" y="901" width="21" height="21"/><rect x="1259" y="901" width="21" height="21"/>
<rect x="796" y="942" width="21" height="21"/><rect x="964" y="942" width="21" height="21"/><rect x="1049" y="942" width="21" height="21"/><rect x="1215" y="942" width="21" height="21"/>
</g>
<g stroke="#D08A00">
<rect x="838" y="819" width="21" height="21"/><rect x="1089" y="819" width="21" height="21"/><rect x="1215" y="819" width="21" height="21"/>
<rect x="838" y="860" width="21" height="21"/><rect x="1089" y="860" width="21" height="21"/><rect x="1215" y="860" width="21" height="21"/>
<rect x="879" y="901" width="21" height="21"/><rect x="1132" y="901" width="21" height="21"/>
<rect x="838" y="942" width="21" height="21"/><rect x="922" y="942" width="21" height="21"/><rect x="1089" y="942" width="21" height="21"/><rect x="1175" y="942" width="21" height="21"/>
</g>
<g stroke="#B0105A">
<rect x="964" y="822" width="19" height="19"/><rect x="1132" y="822" width="19" height="19"/>
<rect x="964" y="863" width="19" height="19"/><rect x="1132" y="863" width="19" height="19"/>
<rect x="796" y="903" width="19" height="19"/><rect x="1049" y="903" width="19" height="19"/><rect x="1215" y="903" width="19" height="19"/>
<rect x="879" y="944" width="19" height="19"/><rect x="1132" y="944" width="19" height="19"/>
</g>
</g>
<g stroke="#000" stroke-width="2" fill="none">
<line x1="755" y1="819" x2="881" y2="781" marker-end="url(#mK)"/><line x1="922" y1="819" x2="982" y2="782" marker-end="url(#mK)"/><line x1="1132" y1="819" x2="1075" y2="782" marker-end="url(#mK)"/><line x1="1280" y1="819" x2="1184" y2="782" marker-end="url(#mK)"/>
<line x1="1488" y1="820" x2="1506" y2="782" marker-end="url(#mK)"/><line x1="1679" y1="820" x2="1662" y2="782" marker-end="url(#mK)"/>
</g>
<g fill="#000">
<rect x="913" y="787" width="5" height="7"/><rect x="922" y="787" width="5" height="7"/><rect x="931" y="787" width="5" height="7"/>
<rect x="1020" y="790" width="5" height="7"/><rect x="1029" y="790" width="5" height="7"/><rect x="1038" y="790" width="5" height="7"/>
<rect x="1139" y="787" width="5" height="7"/><rect x="1148" y="787" width="5" height="7"/><rect x="1157" y="787" width="5" height="7"/>
<rect x="1400" y="812" width="5" height="7"/><rect x="1409" y="812" width="5" height="7"/><rect x="1418" y="812" width="5" height="7"/>
<rect x="1568" y="811" width="5" height="7"/><rect x="1577" y="811" width="5" height="7"/><rect x="1586" y="811" width="5" height="7"/>
<rect x="1740" y="812" width="5" height="7"/><rect x="1749" y="812" width="5" height="7"/><rect x="1758" y="812" width="5" height="7"/>
</g>
<!-- base resources -->
<g fill="none" stroke="#0E8088" stroke-width="2" stroke-dasharray="5,4">
<rect x="1353" y="633" width="129" height="68"/><rect x="1522" y="633" width="126" height="68"/><rect x="1690" y="633" width="128" height="68"/>
<rect x="1342" y="820" width="146" height="143"/><rect x="1510" y="820" width="147" height="143"/><rect x="1679" y="820" width="147" height="143"/>
</g>
<g fill="#6F0000">
<rect x="1362" y="646" width="44" height="43"/><rect x="1428" y="646" width="44" height="43"/>
<rect x="1531" y="645" width="44" height="43"/><rect x="1597" y="645" width="44" height="43"/>
<rect x="1700" y="645" width="44" height="43"/><rect x="1764" y="645" width="44" height="43"/>
</g>
<g fill="none" stroke="#6F0000" stroke-width="2.5">
<rect x="1362" y="840" width="42" height="40"/><rect x="1426" y="840" width="42" height="40"/><rect x="1362" y="902" width="42" height="41"/><rect x="1426" y="902" width="42" height="41"/>
<rect x="1531" y="839" width="42" height="40"/><rect x="1596" y="839" width="42" height="40"/><rect x="1531" y="901" width="42" height="41"/><rect x="1596" y="901" width="42" height="41"/>
<rect x="1698" y="839" width="42" height="40"/><rect x="1762" y="839" width="42" height="40"/><rect x="1698" y="901" width="42" height="41"/><rect x="1762" y="901" width="42" height="41"/>
</g>
<g fill="#0E8088" font-size="18" text-anchor="middle"><text x="1412" y="803">global-region</text><text x="1584" y="803">global-region</text><text x="1756" y="803">global-region</text></g>
<g fill="#000" font-size="21" text-anchor="middle"><text x="1012" y="1003">Physical distributet computational ressources</text><text x="1588" y="1003">Physical base computational ressources</text></g>

<!-- ============ RIGHT ============ -->
<rect x="1910" y="89" width="252" height="329" fill="none" stroke="#6F0000" stroke-width="2"/>
<rect x="2184" y="89" width="253" height="329" fill="none" stroke="#1A6FB0" stroke-width="2"/>
<g fill="#fff" stroke-width="4">
<rect x="1930" y="103" width="86" height="87" stroke="#6F0000"/><rect x="2057" y="103" width="85" height="87" stroke="#6F0000"/>
<rect x="2204" y="103" width="86" height="87" stroke="#1A6FB0"/><rect x="2330" y="103" width="86" height="87" stroke="#1A6FB0"/>
<rect x="1930" y="208" width="86" height="65" stroke="#D6B656"/><rect x="2057" y="208" width="85" height="65" stroke="#D6B656"/>
<rect x="2204" y="208" width="86" height="65" stroke="#D6B656"/><rect x="2330" y="208" width="86" height="65" stroke="#D6B656"/>
</g>
<g font-size="30" fill="#000" text-anchor="middle">
<text x="1973" y="140">Web3</text><text x="1973" y="177">Node</text><text x="2099" y="140">Web3</text><text x="2099" y="177">Node</text>
<text x="2247" y="140">VDI</text><text x="2247" y="177">client</text><text x="2373" y="140">VDI</text><text x="2373" y="177">client</text>
<text x="1973" y="252">DVM</text><text x="2099" y="252">DVM</text><text x="2247" y="252">DVM</text><text x="2373" y="252">DVM</text>
</g>
<g fill="#647687" stroke="#314354" stroke-width="2"><rect x="1930" y="293" width="212" height="110"/><rect x="2204" y="293" width="212" height="110"/></g>
<g fill="#fff" font-size="13"><text x="1943" y="310">host-agg-0</text><text x="2218" y="310">host-agg-7</text></g>
<g stroke-width="1">
<g fill="#E51400" stroke="#B20000">
<rect x="1951" y="316" width="169" height="43"/><rect x="2226" y="316" width="169" height="43"/>
</g>
<g fill="#F0A30A" stroke="#BD7000"><rect x="1972" y="359" width="148" height="21"/><rect x="2247" y="359" width="148" height="21"/></g>
<g fill="#A20025" stroke="#6F0000"><rect x="1951" y="316" width="21" height="21"/><rect x="1951" y="359" width="21" height="21"/><rect x="2226" y="316" width="21" height="21"/><rect x="2226" y="359" width="21" height="21"/></g>
<g stroke="#B20000" fill="none">
<path d="M1951,337H2120M1993,316V380M2014,316V380M2035,316V380M2056,316V380M2077,316V380M2098,316V380M1972,337V359"/>
<path d="M2226,337H2395M2268,316V380M2289,316V380M2310,316V380M2331,316V380M2352,316V380M2373,316V380M2247,337V359"/>
</g>
</g>
<g fill="#000">
<rect x="2152" y="130" width="6" height="7"/><rect x="2152" y="142" width="6" height="7"/><rect x="2152" y="154" width="6" height="7"/>
<rect x="2152" y="226" width="6" height="7"/><rect x="2152" y="238" width="6" height="7"/><rect x="2152" y="250" width="6" height="7"/>
</g>
<g fill="#647687"><rect x="2150" y="331" width="6" height="7"/><rect x="2150" y="343" width="6" height="7"/><rect x="2150" y="355" width="6" height="7"/>
<rect x="2427" y="331" width="6" height="7"/><rect x="2427" y="343" width="6" height="7"/><rect x="2427" y="355" width="6" height="7"/></g>
<g fill="#1A6FB0"><rect x="2427" y="131" width="6" height="7"/><rect x="2427" y="143" width="6" height="7"/><rect x="2427" y="155" width="6" height="7"/></g>
<g fill="#D6B656"><rect x="2427" y="226" width="6" height="7"/><rect x="2427" y="238" width="6" height="7"/><rect x="2427" y="250" width="6" height="7"/></g>

<rect x="1910" y="439" width="252" height="84" fill="#fff" stroke="#6F0000" stroke-width="2"/>
<rect x="2184" y="439" width="252" height="84" fill="#fff" stroke="#1A6FB0" stroke-width="2"/>
<g font-size="19" fill="#000" text-anchor="middle">
<text x="2036" y="465"><tspan font-weight="bold">W3bl</tspan> (Web3)</text><text x="2036" y="490">(web3 infrastructure</text><text x="2036" y="515">compute service)</text>
<text x="2310" y="465"><tspan font-weight="bold">EduCo</tspan> (Web2to3)</text><text x="2310" y="490">(education compute</text><text x="2310" y="515">service)</text>
</g>
<g fill="none" stroke="#000" stroke-width="2" stroke-dasharray="2,6">
<rect x="1910" y="544" width="252" height="333"/><rect x="2183" y="545" width="253" height="332"/>
</g>
<g font-size="19" fill="#000">
<text x="1915" y="574" font-weight="bold">Service Environment:</text>
<text x="1915" y="619">CPU: 100 Core class-1</text><text x="1974" y="644">100 Core class-2</text><text x="1980" y="668">...</text>
<text x="1915" y="695">MEM: 800 GB class-1</text><text x="1979" y="720">800 GB class-2</text><text x="1980" y="744">...</text>
<text x="1915" y="770">SSD: 1000 GB class-1</text><text x="1974" y="796">1000 GB class-2</text>
<text x="1915" y="822">HDD: ...</text><text x="1915" y="871">Network: ...</text>
<text x="2188" y="574" font-weight="bold">Service Environment:</text>
<text x="2188" y="619">CPU: 200 Core class-5</text><text x="2246" y="644">200 Core class-6</text><text x="2253" y="668">...</text>
<text x="2188" y="695">MEM: 900 GB class-5</text><text x="2252" y="720">900 GB class-6</text><text x="2253" y="744">...</text>
<text x="2188" y="770">SSD: 2000 GB class-5</text><text x="2246" y="796">2000 GB class-6</text>
<text x="2188" y="822">HDD: ...</text><text x="2188" y="871">Network: ...</text>
</g>
<g stroke="#000" stroke-width="2" stroke-dasharray="5,4" fill="none">
<line x1="2036" y1="920" x2="2036" y2="880" marker-end="url(#mK)"/><line x1="2309" y1="920" x2="2309" y2="880" marker-end="url(#mK)"/>
</g>
<rect x="1910" y="922" width="525" height="84" fill="#fff" stroke="#000" stroke-width="2"/>
<text x="2174" y="971" font-size="19" text-anchor="middle">Distributet Virtual Computing Infrastructure (DVCI)</text>

<g font-size="30" font-weight="bold">
<text transform="translate(2489,100) rotate(90)" fill="#000">Logos  Ecosystem (services)</text>
<text transform="translate(2489,615) rotate(90)"><tspan fill="#6F0000">Logos</tspan><tspan fill="#1A6FB0"> Network</tspan></text>
</g>
<g fill="#000">
<rect x="2461" y="219" width="7" height="8"/><rect x="2461" y="232" width="7" height="8"/><rect x="2461" y="245" width="7" height="8"/>
<rect x="2461" y="461" width="7" height="8"/><rect x="2461" y="474" width="7" height="8"/><rect x="2461" y="487" width="7" height="8"/>
<rect x="2461" y="675" width="7" height="8"/><rect x="2461" y="688" width="7" height="8"/><rect x="2461" y="701" width="7" height="8"/>
<rect x="2461" y="945" width="7" height="8"/><rect x="2461" y="958" width="7" height="8"/><rect x="2461" y="971" width="7" height="8"/>
</g>
</svg>
</body></html>
